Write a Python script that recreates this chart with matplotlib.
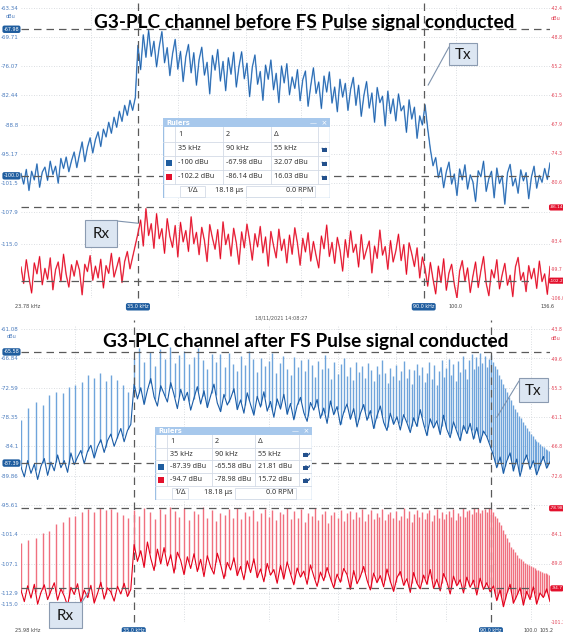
import numpy as np
import matplotlib
matplotlib.use("Agg")
import matplotlib.pyplot as plt
from matplotlib.patches import Rectangle, Arc, ConnectionPatch
from matplotlib.ticker import NullLocator
from matplotlib.transforms import blended_transform_factory as blend

W, H = 563, 632

BLUE_DARK = "#1a5ca6"
BLUE_LIGHT = "#6fa4db"
RED_DARK = "#e3001b"
RED_LIGHT = "#f0707f"
RULER = "#5a5a5a"
GRID = "#cfd3d8"

# ---- capture 1: before FS pulse (kHz span, dBu values) ----
span_before = (23.78, 136.6)
tx_before = [
    -99.5, -101.8, -98.6, -103.2, -99.0, -100.9, -97.4, -102.5, -99.2, -98.1,
    -101.0, -96.8, -99.7, -97.9, -101.6, -96.2, -98.4, -95.9, -99.1, -96.7,
    -94.8, -98.2, -95.3, -92.6, -96.9, -93.8, -91.7, -95.0, -92.1, -90.4,
    -93.6, -89.8, -91.5, -88.3, -90.7, -87.2, -89.4, -85.9, -88.1, -84.6,
    -86.8, -83.5, -85.7, -82.9,
    -71.5, -76.8, -69.2, -74.1, -68.2, -73.9, -70.6, -76.2, -71.8, -68.5,
    -75.3, -72.0, -78.1, -73.4, -70.2, -76.7, -72.8, -79.4, -74.0, -71.3,
    -77.5, -73.1, -80.2, -74.6, -71.9, -78.0, -75.2, -82.1, -73.7, -76.9,
    -72.4, -79.3, -75.0, -81.4, -74.2, -77.8, -73.0, -80.6, -76.1, -72.9,
    -78.8, -75.4, -82.7, -76.3, -73.6, -80.0, -77.2, -83.5, -75.8, -78.9,
    -74.7, -81.2, -77.6, -84.0, -76.0, -79.7, -75.5, -82.3, -78.4, -80.9,
    -76.8, -83.6, -79.0, -77.1, -84.8, -80.3, -76.4, -82.0, -79.5, -85.3,
    -78.2, -81.7, -77.3, -84.1, -80.6, -86.0, -78.9, -82.8, -79.8, -85.7,
    -81.1, -78.5, -84.6, -80.2, -87.0, -82.4, -79.4, -85.2, -81.9, -88.3,
    -80.7, -84.0, -82.6, -89.1, -81.5, -86.4, -83.2, -88.0, -82.1, -85.8,
    -84.7, -90.5, -83.4, -87.6, -85.0, -91.8, -86.9, -88.9,
    -84.5, -89.7, -94.2, -97.8, -96.0, -100.4,
    -98.2, -102.6, -99.1, -97.0, -101.8, -99.6, -104.3, -98.5, -100.9, -97.6,
    -102.9, -99.8, -101.3, -105.6, -98.9, -100.2, -96.8, -103.4, -100.6, -99.0,
    -104.8, -98.3, -101.7, -100.0, -106.2, -99.4, -97.5, -102.2, -100.5, -103.8,
    -98.7, -101.1, -99.3, -105.0, -100.3, -97.9, -102.7, -99.9, -101.4, -98.4,
    -100.8, -97.2,
]
rx_before = [
    -99.2, -102.8, -97.6, -101.5, -104.9, -98.3, -100.7, -96.9, -103.1, -99.5,
    -101.9, -97.2, -104.2, -99.8, -98.1, -102.4, -96.4, -100.9, -103.6, -98.7,
    -101.2, -97.8, -99.9, -105.3, -98.6, -100.2, -96.7, -102.1, -99.0, -101.6,
    -97.5, -103.8, -98.9, -100.6, -96.2, -101.4, -99.3, -97.1, -102.6, -98.0,
    -95.8, -99.6, -97.0, -94.4,
    -91.8, -88.9, -94.6, -86.4, -92.3, -89.7, -95.1, -87.5, -93.0, -90.8,
    -96.2, -88.6, -92.5, -94.9, -90.1, -97.0, -89.4, -93.7, -91.2, -95.8,
    -88.2, -94.1, -91.6, -96.5, -90.5, -93.4, -98.0, -89.9, -92.8, -95.3,
    -91.0, -97.4, -89.3, -94.3, -92.0, -96.8, -90.7, -93.9, -98.6, -91.5,
    -95.0, -89.8, -93.3, -97.7, -91.9, -94.8, -90.3, -96.1, -92.6, -99.0,
    -91.4, -94.5, -97.2, -90.9, -95.6, -93.1, -98.3, -92.2, -96.4, -90.6,
    -94.0, -98.8, -92.9, -95.9, -91.7, -97.9, -93.6, -96.7, -99.4, -92.4,
    -95.2, -90.0, -96.9, -93.8, -98.4, -92.7, -95.5, -100.1, -93.2, -97.1,
    -91.3, -96.0, -94.2, -99.2, -92.1, -97.5, -95.4, -93.5, -100.5, -94.6,
    -97.3, -91.1, -96.6, -94.7, -99.7, -93.4, -98.1, -95.7, -92.0, -97.8,
    -94.3, -100.8, -93.9, -96.3, -99.1, -95.0, -101.6, -97.0,
    -99.6, -103.4, -98.2, -101.9, -105.1, -99.0, -102.6, -97.4, -104.3, -100.5,
    -98.6, -103.0, -106.0, -100.1, -97.8, -102.3, -99.4, -104.8, -101.2, -98.1,
    -103.7, -100.0, -96.9, -102.8, -105.5, -99.8, -101.6, -97.6, -104.0, -100.9,
    -98.4, -103.2, -101.0, -105.7, -99.2, -97.1, -102.1, -100.4, -104.6, -98.9,
    -101.8, -99.5, -103.9, -97.9, -102.4, -100.7, -105.2, -99.1,
]

# ---- capture 2: after FS pulse: noise floor + comb lines every 0.5 kHz ----
span_after = (25.98, 105.2)
comb_first, comb_step = 26.0, 0.5
tx_after_floor = [
    -88.2, -90.1, -86.9, -89.4, -87.6, -90.6, -88.0, -86.5, -89.8, -87.2,
    -88.9, -85.8, -88.3, -86.9, -89.2, -85.4, -87.7, -86.2, -84.9, -87.5,
    -85.1, -83.9, -86.4, -84.2, -82.8, -85.3, -83.0, -81.7, -84.1, -82.3,
    -80.6, -83.2, -81.0, -79.8,
    -71.9, -74.8, -72.6, -75.9, -73.1, -70.8, -74.4, -76.2, -72.2, -73.8,
    -75.4, -71.6, -74.0, -76.7, -72.9, -75.1, -73.5, -77.0, -74.6, -72.4,
    -75.8, -73.2, -76.5, -74.2, -71.9, -75.6, -77.3, -73.9, -76.0, -74.7,
    -72.8, -76.9, -75.0, -77.6, -73.6, -75.9, -78.0, -74.3, -76.4, -73.4,
    -77.2, -75.3, -78.4, -74.8, -76.8, -73.9, -77.8, -75.7, -78.9, -76.1,
    -74.5, -77.5, -79.2, -75.5, -77.0, -74.9, -78.6, -76.6, -79.6, -75.2,
    -77.9, -76.3, -79.9, -77.4, -75.8, -78.8, -76.7, -80.3, -77.7, -75.9,
    -79.0, -77.1, -80.6, -78.1, -76.2, -79.4, -81.0, -77.6, -79.8, -78.3,
    -80.9, -77.9, -79.5, -81.4, -78.5, -80.2, -76.9, -79.7, -82.0, -78.7,
    -80.5, -79.1, -81.8, -78.0, -80.8, -82.4, -79.3, -81.2, -83.0, -80.0,
    -81.6, -79.6, -82.7, -80.4, -83.4, -81.1, -82.2, -84.0,
    -85.9, -88.3, -86.2, -89.4, -87.0, -85.4, -88.9, -86.6, -90.0, -87.3,
    -85.8, -88.6, -86.9, -89.7, -87.8, -86.1, -88.4, -87.1,
]
rx_after_floor = [
    -95.1, -97.3, -94.2, -96.6, -93.9, -97.8, -95.5, -94.0, -96.9, -95.2,
    -93.6, -97.0, -94.8, -96.2, -98.1, -94.5, -95.9, -93.8, -97.4, -95.0,
    -96.5, -94.1, -97.6, -95.7, -93.5, -96.8, -94.6, -95.4, -97.2, -94.3,
    -95.8, -93.7, -96.3, -94.9,
    -86.1, -89.4, -87.3, -90.6, -85.6, -88.8, -91.2, -87.0, -89.9, -86.7,
    -90.3, -88.1, -91.7, -87.6, -89.2, -92.0, -88.5, -90.8, -87.9, -91.4,
    -89.0, -92.4, -88.3, -90.5, -91.9, -87.8, -90.0, -92.8, -89.6, -91.1,
    -88.7, -92.2, -90.4, -93.0, -89.3, -91.6, -88.9, -92.6, -90.9, -93.4,
    -89.8, -92.1, -91.0, -93.7, -90.2, -92.9, -89.5, -91.8, -94.0, -90.7,
    -92.5, -91.3, -93.9, -90.1, -92.3, -94.3, -91.5, -93.2, -90.6, -92.7,
    -94.6, -91.9, -93.5, -90.8, -92.0, -94.9, -91.2, -93.8, -92.4, -90.4,
    -93.1, -95.0, -91.7, -93.6, -92.2, -94.4, -90.9, -93.3, -95.3, -92.6,
    -91.4, -94.1, -92.8, -95.5, -91.6, -93.7, -94.8, -92.1, -93.9, -91.0,
    -94.7, -92.9, -95.2, -91.8, -93.4, -95.8, -92.3, -94.2, -93.0, -95.6,
    -92.5, -94.5, -93.1, -96.0, -92.7, -94.9, -93.6, -95.4,
    -94.2, -97.1, -95.0, -98.3, -95.8, -93.9, -97.6, -96.2, -94.6, -98.0,
    -95.3, -96.9, -94.4, -97.8, -95.6, -96.5, -94.8, -97.3,
]
tx_after_comb = [
    -78.9, -76.6, -75.4, -76.0, -74.0, -73.4, -73.6, -72.4, -72.0, -71.4,
    -70.1, -70.7, -69.7, -71.2, -70.1, -71.0, -72.0, -73.5,
    -66.8, -64.9, -67.5, -65.6, -68.3, -65.1, -66.9, -64.6, -67.8, -66.2,
    -65.4, -68.0, -66.5, -64.8, -67.2, -69.0, -65.9, -67.6, -66.0, -68.6,
    -65.7, -67.9, -69.3, -66.4, -68.1, -65.3, -67.0, -69.6, -66.7, -68.4,
    -67.3, -65.8, -69.8, -67.7, -66.3, -68.9, -70.2, -66.6, -68.5, -67.1,
    -69.4, -66.9, -68.2, -70.5, -67.4, -69.0, -66.1, -68.7, -70.8, -67.6,
    -69.9, -68.0, -66.8, -70.3, -68.6, -71.0, -67.5, -69.5, -68.3, -70.6,
    -67.8, -69.2, -71.3, -68.4, -70.0, -67.2, -69.7, -71.6, -68.8, -70.4,
    -68.1, -71.0, -69.4, -67.3, -70.7, -68.9, -71.8, -69.1, -67.9, -70.2,
    -68.6, -71.4, -69.8, -67.6, -70.9, -68.2, -72.0, -69.3, -67.1, -70.5,
    -68.7, -66.9, -70.1, -68.0, -71.2, -67.4, -69.6, -66.3, -68.9, -70.8,
    -67.2, -65.9, -69.0, -66.6, -68.3, -65.7, -67.7, -66.4, -68.5, -67.0,
    -66.2,
    -67.5, -68.4, -69.0, -70.1, -70.8, -71.9, -72.6, -73.4, -74.5, -75.1,
    -75.9, -76.8, -77.3, -78.2, -78.6, -79.4, -79.9, -80.6, -81.0, -81.7,
    -82.0, -82.6, -83.0, -83.3, -83.7, -84.0, -84.3, -84.6, -84.8, -85.1,
]
rx_after_comb = [
    -85.8, -85.2, -84.9, -83.9, -83.5, -82.1, -81.6, -80.7, -80.5, -79.7,
    -79.2, -79.8, -79.0, -79.4, -79.1, -79.7, -80.3, -80.9,
    -79.3, -80.4, -78.9, -79.8, -81.0, -79.1, -80.2, -78.8, -79.6, -80.7,
    -79.0, -81.2, -79.5, -80.1, -78.7, -80.8, -79.4, -81.5, -79.9, -80.3,
    -79.2, -80.9, -78.9, -81.1, -79.7, -80.5, -79.3, -81.4, -80.0, -79.1,
    -80.6, -79.4, -81.3, -79.8, -80.2, -78.9, -81.0, -79.6, -80.8, -79.2,
    -81.6, -79.9, -80.4, -79.0, -81.2, -80.1, -79.5, -81.8, -80.3, -79.7,
    -80.9, -79.3, -81.4, -80.0, -79.6, -81.1, -79.8, -80.6, -79.1, -81.5,
    -80.2, -79.4, -81.0, -79.9, -80.7, -79.2, -81.3, -80.1, -79.7, -80.9,
    -79.5, -81.2, -80.4, -79.0, -80.8, -79.6, -81.6, -80.2, -79.3, -80.6,
    -79.8, -81.1, -80.0, -79.4, -81.4, -80.3, -79.1, -80.8, -79.7, -81.0,
    -80.1, -79.5, -80.7, -79.2, -81.2, -79.9, -80.4, -79.0, -80.6, -79.6,
    -79.3, -80.2, -79.0, -79.8, -78.9, -80.0, -79.4, -79.1, -79.7, -78.9,
    -79.2,
    -79.8, -80.4, -80.9, -81.7, -82.3, -83.2, -84.0, -84.9, -85.6, -86.5,
    -87.0, -87.6, -88.1, -88.7, -89.0, -89.4, -89.7, -90.0, -90.2, -90.4,
    -90.6, -90.8, -91.0, -91.1, -91.3, -91.4, -91.6, -91.7, -91.8, -92.0,
]

# ---- ruler settings / readouts ----
ruler_khz = (35.0, 90.0)
tx_before_rulers = (-100.0, -67.98)
rx_before_rulers = (-102.2, -86.14)
tx_after_rulers = (-87.39, -65.58)
rx_after_rulers = (-94.7, -78.98)

left_ticks_before = [-63.34, -69.71, -76.07, -82.44, -88.8, -95.17, -101.5, -107.9, -115.0]
right_ticks_before = [-42.4, -48.8, -55.2, -61.5, -67.9, -74.3, -80.6, -87.0, -93.4, -99.7, -106.0]
left_ticks_after = [-61.08, -66.84, -72.59, -78.35, -84.1, -89.86, -95.61, -101.4, -107.1, -112.9, -115.0]
right_ticks_after = [-43.8, -49.6, -55.3, -61.1, -66.8, -72.6, -78.4, -84.1, -89.8, -95.6, -101.3]
grid_khz = [30, 40, 50, 60, 70, 80, 100]


def fxy(x, y):
    # pixel position in the screenshot -> figure fraction
    return x / W, 1 - y / H


def panel(fig, top, bottom, span, left_lim, right_lim, left_ticks, right_ticks, hidden):
    ax = fig.add_axes([21 / W, 1 - bottom / H, 529 / W, (bottom - top) / H])
    ax.set_xscale("log")
    ax.set_xlim(*span)
    ax.set_ylim(*left_lim)
    axr = ax.twinx()
    axr.set_ylim(*right_lim)
    for a in (ax, axr):
        for s in a.spines.values():
            s.set_visible(False)
    ax.tick_params(length=0, labelsize=4, pad=1.5)
    axr.tick_params(length=0, labelsize=3.3, pad=0.4)
    ax.xaxis.set_minor_locator(NullLocator())
    ax.set_xticks([g for g in grid_khz if span[0] < g < span[1]])
    ax.set_xticklabels([])
    ax.set_yticks(left_ticks)
    ax.set_yticklabels([str(v) for v in left_ticks], color="#4a7bbd")
    axr.set_yticks(right_ticks)
    # labels sitting under a ruler badge are hidden in the screenshot
    axr.set_yticklabels(["" if v in hidden else str(v) for v in right_ticks], color="#e2475a")
    ax.grid(True, color=GRID, ls=(0, (1, 2)), lw=0.6)
    return ax, axr


def badge(ax, x, y, text, color, transform, size=3.5):
    ax.text(x, y, text, transform=transform, ha="center", va="center",
            fontsize=size, color="white", zorder=10, clip_on=False,
            bbox=dict(boxstyle="round,pad=0.25,rounding_size=0.4", fc=color, ec="none"))


def rulers(ax_tx, ax_rx, tx_vals, rx_vals, right_end):
    for v in tx_vals:
        ax_tx.axhline(v, color=RULER, ls=(0, (6, 4)), lw=0.9, zorder=4)
        badge(ax_tx, -0.018, v, f"{v:.2f}" if abs(v) < 100 else f"{v:.1f}",
              "#1f5d9f", blend(ax_tx.transAxes, ax_tx.transData))
    for v in rx_vals:
        ax_rx.axhline(v, xmax=right_end, color=RULER, ls=(0, (6, 4)), lw=0.9, zorder=4)
        badge(ax_rx, 1.013, v, f"{v}", "#e3102c", blend(ax_rx.transAxes, ax_rx.transData), 3.1)
    for f in ruler_khz:
        ax_tx.axvline(f, ymin=0, ymax=1.02, color=RULER, ls=(0, (6, 4)), lw=0.9,
                      zorder=4, clip_on=False)
        badge(ax_tx, f, -0.03, f"{f:.1f} kHz", "#1f5d9f", blend(ax_tx.transData, ax_tx.transAxes))


def x_labels(ax, first, last_text, last_x):
    t = blend(ax.transAxes, ax.transAxes)
    ax.text(-0.012, -0.03, first, transform=t, ha="left", va="center", fontsize=3.6, color="#444")
    ax.text(100, -0.03, "100.0", transform=blend(ax.transData, ax.transAxes),
            ha="center", va="center", fontsize=3.5, color="#444")
    ax.text(last_x, -0.03, last_text, transform=t, ha="center", va="center",
            fontsize=3.5, color="#444")


def callout(fig, ax, text, xy, box, corner):
    x0, y0, x1, y1 = box
    fig.add_artist(Rectangle(fxy(x0, y1), (x1 - x0) / W, (y1 - y0) / H,
                             transform=fig.transFigure, fc="#dce6f2", ec="#8b9bb1",
                             lw=0.8, zorder=6))
    fig.text(*fxy((x0 + x1) / 2, (y0 + y1) / 2 + 1), text, ha="center", va="center",
             fontsize=11, family="Lato", color="#1a1a1a", zorder=7)
    fig.add_artist(ConnectionPatch(xyA=fxy(*corner), coordsA="figure fraction",
                                   xyB=xy, coordsB=ax.transData,
                                   color="#7f93ad", lw=0.8, zorder=5))


def lock(ax, x, y, is_open):
    ax.add_patch(Rectangle((x - 2.5, y - 1), 5, 4, fc="#23508c", ec="none"))
    cx = x + (2.2 if is_open else 0)
    ax.add_patch(Arc((cx, y - 1.2), 3.6, 4.4, theta1=0, theta2=180, color="#23508c", lw=0.9))


def ruler_box(fig, x0, y0, w, h, rows, cols, cells, colors, footer, is_open):
    ax = fig.add_axes([x0 / W, 1 - (y0 + h) / H, w / W, h / H], zorder=8)
    ax.set_xlim(0, w)
    ax.set_ylim(h, 0)
    ax.axis("off")
    ax.add_patch(Rectangle((0, 0), w, h, fc="white", ec="#9cbfe4", lw=1.0))
    ax.add_patch(Rectangle((0, 0), w, rows[0], fc="#a7c8ec", ec="none"))
    ax.text(3, rows[0] / 2 + 0.3, "Rulers", fontsize=4.8, color="white",
            weight="bold", va="center")
    ax.text(w - 3, rows[0] / 2 + 0.3, "—  ×", fontsize=5, color="white", va="center", ha="right")
    for y in rows[1:-1]:
        ax.plot([0, w], [y, y], color="#d3dbe6", lw=0.6)
    for x in cols:
        ax.plot([x, x], [rows[0], rows[-2]], color="#d3dbe6", lw=0.6)
    for r, line in enumerate(cells):
        yc = (rows[r] + rows[r + 1]) / 2
        for c, txt in enumerate(line):
            ax.text(cols[c] + 3, yc, txt, fontsize=5.2, color="#333", va="center",
                    family="Noto Sans")
        if r >= 1:
            lock(ax, (cols[-1] + w) / 2, yc, is_open)
        if r >= 2:
            ax.add_patch(Rectangle((3, yc - 3), 6, 6, fc=colors[r - 2], ec="none"))
    yc = (rows[-2] + rows[-1]) / 2
    (bx0, bx1), (t1, x1), (t2, x2) = footer
    ax.add_patch(Rectangle((bx0, rows[-2] + 1.5), bx1 - bx0, rows[-1] - rows[-2] - 3,
                           fc="none", ec="#d3dbe6", lw=0.6))
    ax.text((bx0 + bx1) / 2, yc, "1/Δ", fontsize=5.2, color="#333", ha="center",
            va="center", family="Noto Sans")
    ax.text(x1, yc, t1, fontsize=5.2, color="#333", ha="right", va="center", family="Noto Sans")
    ax.text(x2, yc, t2, fontsize=5.2, color="#333", ha="right", va="center", family="Noto Sans")
    ax.add_patch(Rectangle((x1 + 3, rows[-2] + 1.5), x2 - x1 - 1, rows[-1] - rows[-2] - 3,
                           fc="none", ec="#d3dbe6", lw=0.6))


fig = plt.figure(figsize=(W / 100, H / 100), dpi=100)
fig.patch.set_facecolor("white")

# ---------------- top panel ----------------
ax1, ax1r = panel(fig, 5, 298, span_before, (-126.69, -62.68), (-106.0, -41.74),
                  left_ticks_before, right_ticks_before, [-87.0])
f1 = np.geomspace(span_before[0], span_before[1], len(tx_before))
ax1.plot(f1, tx_before, color=BLUE_LIGHT, lw=1.1, alpha=0.9, zorder=2)
ax1.plot(f1, tx_before, color=BLUE_DARK, lw=0.5, zorder=3)
ax1r.plot(f1, rx_before, color=RED_LIGHT, lw=1.1, alpha=0.9, zorder=2)
ax1r.plot(f1, rx_before, color=RED_DARK, lw=0.5, zorder=3)
rulers(ax1, ax1r, tx_before_rulers, rx_before_rulers, 0.96)
x_labels(ax1, "23.78 kHz", "136.6", 0.995)

# ---------------- bottom panel ----------------
ax2, ax2r = panel(fig, 326, 622, span_after, (-118.58, -60.49), (-101.3, -43.21),
                  left_ticks_after, right_ticks_after, [-78.4, -95.6])
f2 = np.geomspace(span_after[0], span_after[1], len(tx_after_floor))
fc = comb_first + comb_step * np.arange(len(tx_after_comb))
ax2.vlines(fc, np.interp(fc, f2, tx_after_floor), tx_after_comb, color=BLUE_LIGHT, lw=1.0, zorder=2)
ax2.plot(f2, tx_after_floor, color=BLUE_DARK, lw=0.8, zorder=3)
ax2r.vlines(fc, np.interp(fc, f2, rx_after_floor), rx_after_comb, color=RED_LIGHT, lw=1.0, zorder=2)
ax2r.plot(f2, rx_after_floor, color=RED_DARK, lw=0.8, zorder=3)
rulers(ax2, ax2r, tx_after_rulers, rx_after_rulers, 0.97)
x_labels(ax2, "25.98 kHz", "105.2", 0.994)

# unit labels, date stamp and titles
for x, y, c in [(11, 17, "#4a7bbd"), (556, 18, "#e2475a"), (12, 337, "#4a7bbd"), (556, 339, "#e2475a")]:
    fig.text(*fxy(x, y), "dBu", fontsize=3.6, color=c, ha="center", va="center")
fig.text(*fxy(281, 318), "18/11/2021 14:08:27", fontsize=3.6, color="#555", ha="center", va="center")
fig.text(*fxy(304, 28), "G3-PLC channel before FS Pulse signal conducted",
         fontsize=13.7, weight="bold", family="Lato", ha="center", va="baseline", zorder=7)
fig.text(*fxy(306, 347), "G3-PLC channel after FS Pulse signal conducted",
         fontsize=13.7, weight="bold", family="Lato", ha="center", va="baseline", zorder=7)

# callouts
callout(fig, ax1, "Tx", (91.3, -80.2), (449, 43, 477, 65), (449, 47))
callout(fig, ax1r, "Rx", (35.0, -89.6), (85, 220, 117, 247), (117, 221))
callout(fig, ax2, "Tx", (91.4, -78.4), (519, 378, 548, 402), (519, 381))
callout(fig, ax2r, "Rx", (31.1, -95.2), (49, 602, 82, 628), (82, 602))

# ruler read-out windows
ruler_box(fig, 163, 118, 167, 80, [9, 24, 38, 52, 66, 80], [12, 60, 108, 155],
          [["1", "2", "Δ"], ["35 kHz", "90 kHz", "55 kHz"],
           ["-100 dBu", "-67.98 dBu", "32.07 dBu"], ["-102.2 dBu", "-86.14 dBu", "16.03 dBu"]],
          ["#1f5d9f", "#e3102c"], ((17, 42), ("18.18 μs", 80), ("0.0 RPM", 150)), False)
ruler_box(fig, 155, 427, 157, 73, [8, 21, 33, 46, 59, 73], [12, 57, 100, 144],
          [["1", "2", "Δ"], ["35 kHz", "90 kHz", "55 kHz"],
           ["-87.39 dBu", "-65.58 dBu", "21.81 dBu"], ["-94.7 dBu", "-78.98 dBu", "15.72 dBu"]],
          ["#1f5d9f", "#e3102c"], ((17, 33), ("18.18 μs", 77), ("0.0 RPM", 139)), True)

fig.savefig("out.png", dpi=100, facecolor="white")
